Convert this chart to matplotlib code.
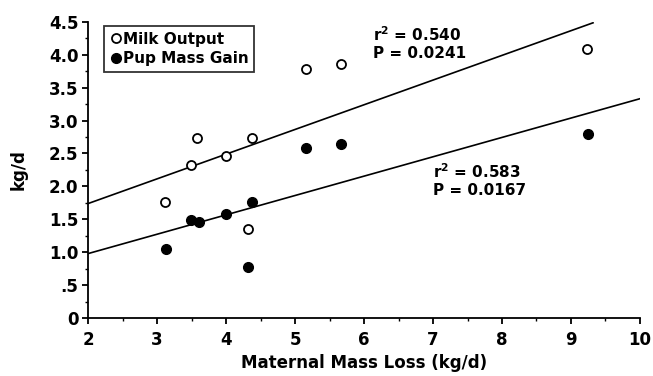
import matplotlib.pyplot as plt
import numpy as np
from matplotlib.ticker import MultipleLocator, FixedFormatter, FixedLocator

# Milk output (open circles)
milk_x = [3.12, 3.49, 3.58, 4.00, 4.38, 4.32, 5.16, 5.67, 9.23]
milk_y = [1.77, 2.32, 2.73, 2.46, 2.73, 1.35, 3.79, 3.86, 4.09]

# Pup mass gain (filled circles)
pup_x = [3.13, 3.49, 3.60, 4.00, 4.38, 4.32, 5.16, 5.67, 9.25]
pup_y = [1.05, 1.49, 1.46, 1.58, 1.76, 0.77, 2.58, 2.64, 2.79]

# regression lines: (value at x=2, slope, x end)
milk_fit = (1.74, 0.375, 9.32)
pup_fit = (0.98, 0.294, 10.0)

y_ticks = [0, 0.5, 1.0, 1.5, 2.0, 2.5, 3.0, 3.5, 4.0, 4.5]
y_tick_labels = ["0", ".5", "1.0", "1.5", "2.0", "2.5", "3.0", "3.5", "4.0", "4.5"]
x_ticks = [2, 3, 4, 5, 6, 7, 8, 9, 10]

plt.rcParams["font.family"] = "DejaVu Sans"
plt.rcParams["font.weight"] = "bold"
plt.rcParams["mathtext.default"] = "bf"

fig = plt.figure(figsize=(6.53, 3.76), dpi=100)
ax = fig.add_axes([0.135, 0.154, 0.845, 0.788])

for b, m, xe in [milk_fit, pup_fit]:
    xs = np.array([2.0, xe])
    ax.plot(xs, b + m * (xs - 2.0), color="black", lw=1.2, zorder=2)

ax.plot(milk_x, milk_y, "o", mfc="white", mec="black", mew=1.3, ms=6.5,
        ls="none", label="Milk Output", zorder=3)
ax.plot(pup_x, pup_y, "o", mfc="black", mec="black", ms=7,
        ls="none", label="Pup Mass Gain", zorder=3)

ax.set_xlim(2, 10)
ax.set_ylim(0, 4.5)
ax.xaxis.set_major_locator(FixedLocator(x_ticks))
ax.xaxis.set_minor_locator(MultipleLocator(0.5))
ax.yaxis.set_major_locator(FixedLocator(y_ticks))
ax.yaxis.set_major_formatter(FixedFormatter(y_tick_labels))
ax.yaxis.set_minor_locator(MultipleLocator(0.25))

ax.spines["top"].set_visible(False)
ax.spines["right"].set_visible(False)
ax.spines["left"].set_linewidth(1.3)
ax.spines["bottom"].set_linewidth(1.3)
ax.tick_params(which="major", length=4, width=1.3, labelsize=12)
ax.tick_params(axis="x", which="major", pad=5)
ax.tick_params(axis="y", which="major", pad=3)
ax.tick_params(which="minor", length=2, width=1)
for lbl in ax.get_xticklabels() + ax.get_yticklabels():
    lbl.set_fontweight("bold")

ax.set_xlabel("Maternal Mass Loss (kg/d)", fontsize=12, fontweight="bold", labelpad=4)
ax.set_ylabel("kg/d", fontsize=12, fontweight="bold", labelpad=15)

ax.text(6.13, 4.17, "r$^2$ = 0.540\nP = 0.0241", fontsize=11, fontweight="bold",
        va="center", ha="left", linespacing=1.15)
ax.text(7.0, 2.09, "r$^2$ = 0.583\nP = 0.0167", fontsize=11, fontweight="bold",
        va="center", ha="left", linespacing=1.15)

leg = ax.legend(loc="upper left", bbox_to_anchor=(0.015, 1.01), frameon=True,
                fancybox=False, edgecolor="black", handletextpad=0.1,
                handlelength=0.8, borderpad=0.35, labelspacing=0.3,
                prop={"weight": "bold", "size": 11})
leg.get_frame().set_linewidth(1.3)

fig.savefig("out.png", dpi=100)
